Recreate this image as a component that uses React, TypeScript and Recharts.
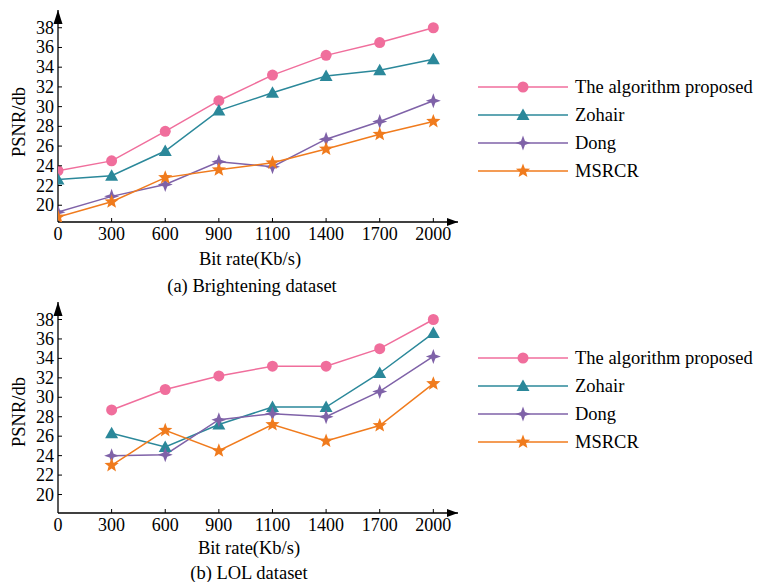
import { LineChart, Line, XAxis, YAxis, ReferenceDot, Legend } from 'recharts';

const categories = ['0', '300', '600', '900', '1100', '1400', '1700', '2000'];
const yTicks = [20, 22, 24, 26, 28, 30, 32, 34, 36, 38];

// (a) Brightening dataset
const brightProposed = [23.5, 24.5, 27.5, 30.6, 33.2, 35.2, 36.5, 38.0];
const brightZohair = [22.6, 23.0, 25.5, 29.6, 31.4, 33.1, 33.7, 34.8];
const brightDong = [19.3, 20.9, 22.1, 24.4, 23.9, 26.7, 28.5, 30.6];
const brightMsrcr = [18.8, 20.35, 22.8, 23.6, 24.3, 25.7, 27.2, 28.5];

// (b) LOL dataset (no value at 0)
const lolProposed = [null, 28.7, 30.8, 32.2, 33.2, 33.2, 35.0, 38.0];
const lolZohair = [null, 26.3, 24.9, 27.2, 29.0, 29.0, 32.5, 36.6];
const lolDong = [null, 24.0, 24.1, 27.7, 28.3, 28.0, 30.6, 34.2];
const lolMsrcr = [null, 23.0, 26.6, 24.5, 27.2, 25.5, 27.1, 31.4];

const FONT = "'Liberation Serif', 'Times New Roman', serif";
const X_MAX = 7.46;

const SERIES = [
  { key: 'proposed', name: 'The algorithm proposed', color: '#f06e9c', shape: 'circle' },
  { key: 'zohair', name: 'Zohair', color: '#2b889a', shape: 'triangle' },
  { key: 'dong', name: 'Dong', color: '#7f62a8', shape: 'star4' },
  { key: 'msrcr', name: 'MSRCR', color: '#f07b1d', shape: 'star5' },
];

function starPoints(cx: number, cy: number, n: number, outer: number, inner: number) {
  const pts: string[] = [];
  for (let k = 0; k < n * 2; k++) {
    const r = k % 2 === 0 ? outer : inner;
    const a = -Math.PI / 2 + (k * Math.PI) / n;
    pts.push(`${cx + r * Math.cos(a)},${cy + r * Math.sin(a)}`);
  }
  return pts.join(' ');
}

function Marker({ cx, cy, shape, color }: any) {
  if (cx == null || cy == null) return <g />;
  if (shape === 'circle') return <circle cx={cx} cy={cy} r={5.5} fill={color} />;
  if (shape === 'triangle')
    return <polygon points={`${cx},${cy - 6.5} ${cx - 6.5},${cy + 5} ${cx + 6.5},${cy + 5}`} fill={color} />;
  if (shape === 'star4') return <polygon points={starPoints(cx, cy, 4, 7.5, 2.8)} fill={color} />;
  return <polygon points={starPoints(cx, cy, 5, 7.5, 3.2)} fill={color} />;
}

function XTick({ x, y, payload }: any) {
  return (
    <g>
      {payload.value > 0 && <line x1={x} y1={y} x2={x} y2={y - 4} stroke="#000" strokeWidth={1} />}
      <text x={x} y={y + 18} textAnchor="middle" fontSize={18} fontFamily={FONT} fill="#000">
        {categories[payload.value]}
      </text>
    </g>
  );
}

function YTick({ x, y, payload }: any) {
  return (
    <g>
      <line x1={x} y1={y} x2={x + 4} y2={y} stroke="#000" strokeWidth={1} />
      <text x={x - 4} y={y + 6} textAnchor="end" fontSize={18} fontFamily={FONT} fill="#000">
        {payload.value}
      </text>
    </g>
  );
}

function renderLegend() {
  return (
    <div style={{ fontFamily: FONT, fontSize: 18.5, color: '#000' }}>
      {SERIES.map((s) => (
        <div key={s.key} style={{ display: 'flex', alignItems: 'center', height: 28 }}>
          <svg width={90} height={28}>
            <line x1={0} y1={14} x2={90} y2={14} stroke={s.color} strokeWidth={1.5} />
            <Marker cx={45} cy={14} shape={s.shape} color={s.color} />
          </svg>
          <span style={{ marginLeft: 7, whiteSpace: 'nowrap' }}>{s.name}</span>
        </div>
      ))}
    </div>
  );
}

function Panel({ data, height, plotHeight, yMin, yMax, legendTop }: any) {
  return (
    <LineChart
      width={758}
      height={height}
      data={data}
      margin={{ top: 10, right: 300, left: 8, bottom: height - 10 - 30 - plotHeight }}
    >
      <XAxis
        type="number"
        dataKey="i"
        domain={[0, X_MAX]}
        ticks={[0, 1, 2, 3, 4, 5, 6, 7]}
        interval={0}
        allowDataOverflow
        height={30}
        tickSize={0}
        tickMargin={0}
        tickLine={false}
        tick={<XTick />}
        axisLine={{ stroke: '#000', strokeWidth: 1.3 }}
      />
      <YAxis
        type="number"
        domain={[yMin, yMax]}
        ticks={yTicks}
        interval={0}
        allowDataOverflow
        width={50}
        tickSize={0}
        tickMargin={0}
        tickLine={false}
        tick={<YTick />}
        axisLine={{ stroke: '#000', strokeWidth: 1.3 }}
      />
      {SERIES.map((s) => (
        <Line
          key={s.key}
          type="linear"
          dataKey={s.key}
          name={s.name}
          stroke={s.color}
          strokeWidth={1.5}
          dot={(p: any) => <Marker key={`${s.key}-${p.index}`} cx={p.cx} cy={p.cy} shape={s.shape} color={s.color} />}
          activeDot={false}
          isAnimationActive={false}
        />
      ))}
      <ReferenceDot
        x={X_MAX}
        y={yMin}
        ifOverflow="visible"
        shape={(p: any) => (
          <polygon points={`${p.cx},${p.cy} ${p.cx - 11},${p.cy - 4} ${p.cx - 11},${p.cy + 4}`} fill="#000" />
        )}
      />
      <ReferenceDot
        x={0}
        y={yMax}
        ifOverflow="visible"
        shape={(p: any) => (
          <polygon points={`${p.cx},${p.cy} ${p.cx - 4.5},${p.cy + 14} ${p.cx + 4.5},${p.cy + 14}`} fill="#000" />
        )}
      />
      <Legend
        content={renderLegend}
        layout="vertical"
        align="center"
        verticalAlign="middle"
        wrapperStyle={{ left: 478, top: legendTop, width: 'auto', height: 'auto' }}
      />
    </LineChart>
  );
}

function buildData(a: any[], b: any[], c: any[], d: any[]) {
  return categories.map((label, i) => ({
    i,
    label,
    proposed: a[i],
    zohair: b[i],
    dong: c[i],
    msrcr: d[i],
  }));
}

const textStyle: any = {
  position: 'absolute',
  fontFamily: FONT,
  fontSize: 18.5,
  color: '#000',
  whiteSpace: 'nowrap',
  transform: 'translate(-50%, -50%)',
};

export default function App() {
  const brightData = buildData(brightProposed, brightZohair, brightDong, brightMsrcr);
  const lolData = buildData(lolProposed, lolZohair, lolDong, lolMsrcr);
  return (
    <div style={{ position: 'absolute', left: 0, top: 0, width: 758, height: 582, background: '#fff', overflow: 'hidden' }}>
      <div style={{ position: 'absolute', left: 0, top: 0 }}>
        <Panel data={brightData} height={300} plotHeight={212} yMin={18.3} yMax={39.8} legendTop={73} />
      </div>
      <div style={{ position: 'absolute', left: 0, top: 292 }}>
        <Panel data={lolData} height={290} plotHeight={211} yMin={18.1} yMax={39.8} legendTop={52} />
      </div>

      <div style={{ ...textStyle, left: 19, top: 122, transform: 'translate(-50%, -50%) rotate(-90deg)' }}>PSNR/db</div>
      <div style={{ ...textStyle, left: 250, top: 259 }}>Bit rate(Kb/s)</div>
      <div style={{ ...textStyle, left: 252, top: 286 }}>(a) Brightening dataset</div>

      <div style={{ ...textStyle, left: 19, top: 412, transform: 'translate(-50%, -50%) rotate(-90deg)' }}>PSNR/db</div>
      <div style={{ ...textStyle, left: 249, top: 548 }}>Bit rate(Kb/s)</div>
      <div style={{ ...textStyle, left: 249, top: 573 }}>(b) LOL dataset</div>
    </div>
  );
}
